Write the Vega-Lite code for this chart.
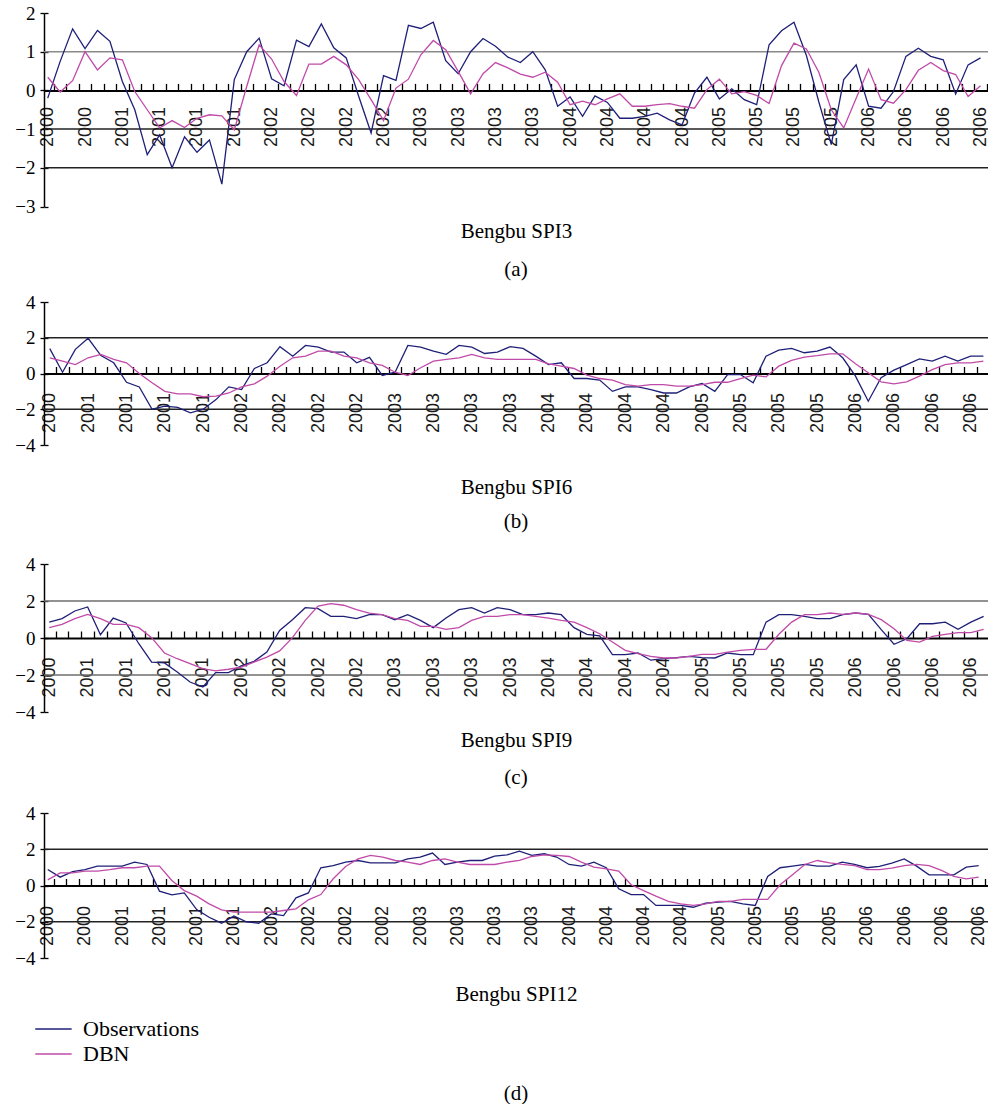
{
"$schema": "https://vega.github.io/schema/vega-lite/v6.json",
"background": "white",
"padding": {"left": 14, "top": 4, "right": 0, "bottom": 0},
"config": {"view": {"stroke": null}, "title": {"font": "Liberation Serif", "fontSize": 21, "fontWeight": "normal", "color": "#000", "anchor": "middle"}},
"datasets": {
"a": [
{"i":0,"Observations":-0.2,"DBN":0.34},{"i":1,"Observations":0.75,"DBN":-0.04},{"i":2,"Observations":1.59,"DBN":0.25},{"i":3,"Observations":1.08,"DBN":1.0},{"i":4,"Observations":1.55,"DBN":0.53},{"i":5,"Observations":1.27,"DBN":0.84},{"i":6,"Observations":0.23,"DBN":0.79},{"i":7,"Observations":-0.5,"DBN":-0.03},{"i":8,"Observations":-1.66,"DBN":-0.5},{"i":9,"Observations":-1.15,"DBN":-0.97},
{"i":10,"Observations":-2.0,"DBN":-0.78},{"i":11,"Observations":-1.2,"DBN":-0.96},{"i":12,"Observations":-1.6,"DBN":-0.72},{"i":13,"Observations":-1.28,"DBN":-0.63},{"i":14,"Observations":-2.42,"DBN":-0.66},{"i":15,"Observations":0.28,"DBN":-1.02},{"i":16,"Observations":1.0,"DBN":0.1},{"i":17,"Observations":1.35,"DBN":1.18},{"i":18,"Observations":0.3,"DBN":0.81},{"i":19,"Observations":0.12,"DBN":0.23},
{"i":20,"Observations":1.3,"DBN":-0.13},{"i":21,"Observations":1.13,"DBN":0.68},{"i":22,"Observations":1.72,"DBN":0.68},{"i":23,"Observations":1.1,"DBN":0.88},{"i":24,"Observations":0.84,"DBN":0.66},{"i":25,"Observations":-0.15,"DBN":0.28},{"i":26,"Observations":-1.1,"DBN":-0.24},{"i":27,"Observations":0.38,"DBN":-0.78},{"i":28,"Observations":0.26,"DBN":0.06},{"i":29,"Observations":1.68,"DBN":0.29},
{"i":30,"Observations":1.6,"DBN":0.92},{"i":31,"Observations":1.76,"DBN":1.29},{"i":32,"Observations":0.77,"DBN":1.05},{"i":33,"Observations":0.43,"DBN":0.49},{"i":34,"Observations":1.0,"DBN":-0.09},{"i":35,"Observations":1.34,"DBN":0.43},{"i":36,"Observations":1.14,"DBN":0.72},{"i":37,"Observations":0.86,"DBN":0.58},{"i":38,"Observations":0.72,"DBN":0.42},{"i":39,"Observations":1.0,"DBN":0.34},
{"i":40,"Observations":0.53,"DBN":0.47},{"i":41,"Observations":-0.41,"DBN":0.21},{"i":42,"Observations":-0.17,"DBN":-0.37},{"i":43,"Observations":-0.67,"DBN":-0.28},{"i":44,"Observations":-0.14,"DBN":-0.37},{"i":45,"Observations":-0.31,"DBN":-0.22},{"i":46,"Observations":-0.72,"DBN":-0.09},{"i":47,"Observations":-0.72,"DBN":-0.41},{"i":48,"Observations":-0.67,"DBN":-0.41},{"i":49,"Observations":-0.59,"DBN":-0.37},
{"i":50,"Observations":-0.76,"DBN":-0.34},{"i":51,"Observations":-0.89,"DBN":-0.41},{"i":52,"Observations":-0.07,"DBN":-0.46},{"i":53,"Observations":0.34,"DBN":0.02},{"i":54,"Observations":-0.22,"DBN":0.29},{"i":55,"Observations":0.04,"DBN":-0.09},{"i":56,"Observations":-0.24,"DBN":-0.03},{"i":57,"Observations":-0.37,"DBN":-0.13},{"i":58,"Observations":1.18,"DBN":-0.34},{"i":59,"Observations":1.54,"DBN":0.64},
{"i":60,"Observations":1.76,"DBN":1.22},{"i":61,"Observations":0.9,"DBN":1.07},{"i":62,"Observations":-0.3,"DBN":0.47},{"i":63,"Observations":-1.4,"DBN":-0.5},{"i":64,"Observations":0.28,"DBN":-0.97},{"i":65,"Observations":0.66,"DBN":-0.2},{"i":66,"Observations":-0.41,"DBN":0.55},{"i":67,"Observations":-0.46,"DBN":-0.24},{"i":68,"Observations":-0.03,"DBN":-0.33},{"i":69,"Observations":0.88,"DBN":0.02},
{"i":70,"Observations":1.09,"DBN":0.52},{"i":71,"Observations":0.88,"DBN":0.72},{"i":72,"Observations":0.79,"DBN":0.51},{"i":73,"Observations":-0.09,"DBN":0.41},{"i":74,"Observations":0.66,"DBN":-0.16},{"i":75,"Observations":0.84,"DBN":0.12}
],
"b": [
{"i":0,"Observations":1.39,"DBN":0.88},{"i":1,"Observations":0.07,"DBN":0.69},{"i":2,"Observations":1.35,"DBN":0.5},{"i":3,"Observations":1.97,"DBN":0.88},{"i":4,"Observations":1.0,"DBN":1.07},{"i":5,"Observations":0.6,"DBN":0.79},{"i":6,"Observations":-0.49,"DBN":0.6},{"i":7,"Observations":-0.75,"DBN":0.0},{"i":8,"Observations":-2.0,"DBN":-0.52},{"i":9,"Observations":-1.83,"DBN":-1.0},
{"i":10,"Observations":-1.9,"DBN":-1.14},{"i":11,"Observations":-2.2,"DBN":-1.14},{"i":12,"Observations":-2.0,"DBN":-1.3},{"i":13,"Observations":-1.46,"DBN":-1.27},{"i":14,"Observations":-0.75,"DBN":-1.09},{"i":15,"Observations":-0.9,"DBN":-0.75},{"i":16,"Observations":0.28,"DBN":-0.58},{"i":17,"Observations":0.6,"DBN":-0.15},{"i":18,"Observations":1.5,"DBN":0.41},{"i":19,"Observations":0.97,"DBN":0.88},
{"i":20,"Observations":1.57,"DBN":0.97},{"i":21,"Observations":1.48,"DBN":1.25},{"i":22,"Observations":1.2,"DBN":1.25},{"i":23,"Observations":1.2,"DBN":0.97},{"i":24,"Observations":0.6,"DBN":0.88},{"i":25,"Observations":0.9,"DBN":0.6},{"i":26,"Observations":-0.11,"DBN":0.45},{"i":27,"Observations":0.07,"DBN":0.07},{"i":28,"Observations":1.57,"DBN":-0.11},{"i":29,"Observations":1.48,"DBN":0.32},
{"i":30,"Observations":1.25,"DBN":0.69},{"i":31,"Observations":1.07,"DBN":0.79},{"i":32,"Observations":1.57,"DBN":0.88},{"i":33,"Observations":1.48,"DBN":1.07},{"i":34,"Observations":1.12,"DBN":0.88},{"i":35,"Observations":1.2,"DBN":0.79},{"i":36,"Observations":1.5,"DBN":0.79},{"i":37,"Observations":1.4,"DBN":0.79},{"i":38,"Observations":0.97,"DBN":0.79},{"i":39,"Observations":0.5,"DBN":0.54},
{"i":40,"Observations":0.6,"DBN":0.41},{"i":41,"Observations":-0.28,"DBN":0.28},{"i":42,"Observations":-0.28,"DBN":-0.09},{"i":43,"Observations":-0.37,"DBN":-0.28},{"i":44,"Observations":-1.0,"DBN":-0.37},{"i":45,"Observations":-0.75,"DBN":-0.62},{"i":46,"Observations":-0.75,"DBN":-0.71},{"i":47,"Observations":-0.9,"DBN":-0.62},{"i":48,"Observations":-1.09,"DBN":-0.62},{"i":49,"Observations":-1.09,"DBN":-0.71},
{"i":50,"Observations":-0.75,"DBN":-0.71},{"i":51,"Observations":-0.56,"DBN":-0.62},{"i":52,"Observations":-1.0,"DBN":-0.49},{"i":53,"Observations":-0.06,"DBN":-0.49},{"i":54,"Observations":-0.06,"DBN":-0.28},{"i":55,"Observations":-0.52,"DBN":-0.09},{"i":56,"Observations":0.97,"DBN":-0.19},{"i":57,"Observations":1.31,"DBN":0.41},{"i":58,"Observations":1.4,"DBN":0.73},{"i":59,"Observations":1.16,"DBN":0.92},
{"i":60,"Observations":1.25,"DBN":1.0},{"i":61,"Observations":1.48,"DBN":1.1},{"i":62,"Observations":0.88,"DBN":1.1},{"i":63,"Observations":-0.15,"DBN":0.54},{"i":64,"Observations":-1.55,"DBN":0.04},{"i":65,"Observations":-0.24,"DBN":-0.47},{"i":66,"Observations":0.19,"DBN":-0.58},{"i":67,"Observations":0.5,"DBN":-0.47},{"i":68,"Observations":0.82,"DBN":-0.15},{"i":69,"Observations":0.69,"DBN":0.22},
{"i":70,"Observations":0.97,"DBN":0.5},{"i":71,"Observations":0.69,"DBN":0.6},{"i":72,"Observations":0.97,"DBN":0.6},{"i":73,"Observations":0.97,"DBN":0.69}
],
"c": [
{"i":0,"Observations":0.86,"DBN":0.56},{"i":1,"Observations":1.05,"DBN":0.74},{"i":2,"Observations":1.46,"DBN":1.05},{"i":3,"Observations":1.68,"DBN":1.28},{"i":4,"Observations":0.18,"DBN":1.05},{"i":5,"Observations":1.08,"DBN":0.74},{"i":6,"Observations":0.81,"DBN":0.74},{"i":7,"Observations":-0.31,"DBN":0.56},{"i":8,"Observations":-1.3,"DBN":0.02},{"i":9,"Observations":-1.35,"DBN":-0.81},
{"i":10,"Observations":-1.84,"DBN":-1.12},{"i":11,"Observations":-2.38,"DBN":-1.39},{"i":12,"Observations":-2.65,"DBN":-1.66},{"i":13,"Observations":-1.87,"DBN":-1.78},{"i":14,"Observations":-1.87,"DBN":-1.69},{"i":15,"Observations":-1.51,"DBN":-1.57},{"i":16,"Observations":-1.26,"DBN":-1.3},{"i":17,"Observations":-0.76,"DBN":-1.03},{"i":18,"Observations":0.41,"DBN":-0.7},{"i":19,"Observations":0.99,"DBN":0.02},
{"i":20,"Observations":1.64,"DBN":0.95},{"i":21,"Observations":1.59,"DBN":1.73},{"i":22,"Observations":1.17,"DBN":1.86},{"i":23,"Observations":1.17,"DBN":1.77},{"i":24,"Observations":1.05,"DBN":1.53},{"i":25,"Observations":1.26,"DBN":1.35},{"i":26,"Observations":1.26,"DBN":1.26},{"i":27,"Observations":0.99,"DBN":1.05},{"i":28,"Observations":1.26,"DBN":0.95},{"i":29,"Observations":0.95,"DBN":0.63},
{"i":30,"Observations":0.56,"DBN":0.63},{"i":31,"Observations":1.08,"DBN":0.47},{"i":32,"Observations":1.53,"DBN":0.56},{"i":33,"Observations":1.64,"DBN":0.95},{"i":34,"Observations":1.35,"DBN":1.17},{"i":35,"Observations":1.64,"DBN":1.17},{"i":36,"Observations":1.53,"DBN":1.26},{"i":37,"Observations":1.26,"DBN":1.26},{"i":38,"Observations":1.26,"DBN":1.17},{"i":39,"Observations":1.35,"DBN":1.08},
{"i":40,"Observations":1.26,"DBN":0.95},{"i":41,"Observations":0.56,"DBN":0.86},{"i":42,"Observations":0.2,"DBN":0.56},{"i":43,"Observations":0.11,"DBN":0.23},{"i":44,"Observations":-0.9,"DBN":-0.22},{"i":45,"Observations":-0.9,"DBN":-0.67},{"i":46,"Observations":-0.81,"DBN":-0.85},{"i":47,"Observations":-1.2,"DBN":-0.99},{"i":48,"Observations":-1.12,"DBN":-1.08},{"i":49,"Observations":-1.06,"DBN":-1.08},
{"i":50,"Observations":-0.99,"DBN":-0.99},{"i":51,"Observations":-1.06,"DBN":-0.88},{"i":52,"Observations":-1.08,"DBN":-0.88},{"i":53,"Observations":-0.81,"DBN":-0.76},{"i":54,"Observations":-0.9,"DBN":-0.67},{"i":55,"Observations":-0.9,"DBN":-0.61},{"i":56,"Observations":0.86,"DBN":-0.61},{"i":57,"Observations":1.26,"DBN":0.2},{"i":58,"Observations":1.26,"DBN":0.86},{"i":59,"Observations":1.17,"DBN":1.26},
{"i":60,"Observations":1.05,"DBN":1.26},{"i":61,"Observations":1.05,"DBN":1.35},{"i":62,"Observations":1.26,"DBN":1.28},{"i":63,"Observations":1.35,"DBN":1.35},{"i":64,"Observations":1.28,"DBN":1.28},{"i":65,"Observations":0.45,"DBN":0.99},{"i":66,"Observations":-0.34,"DBN":0.5},{"i":67,"Observations":-0.04,"DBN":-0.13},{"i":68,"Observations":0.77,"DBN":-0.22},{"i":69,"Observations":0.77,"DBN":0.09},
{"i":70,"Observations":0.86,"DBN":0.2},{"i":71,"Observations":0.47,"DBN":0.29},{"i":72,"Observations":0.86,"DBN":0.29},{"i":73,"Observations":1.17,"DBN":0.47}
],
"d": [
{"i":0,"Observations":0.88,"DBN":0.31},{"i":1,"Observations":0.46,"DBN":0.7},{"i":2,"Observations":0.77,"DBN":0.7},{"i":3,"Observations":0.87,"DBN":0.79},{"i":4,"Observations":1.07,"DBN":0.79},{"i":5,"Observations":1.07,"DBN":0.87},{"i":6,"Observations":1.07,"DBN":0.98},{"i":7,"Observations":1.29,"DBN":0.98},{"i":8,"Observations":1.16,"DBN":1.07},{"i":9,"Observations":-0.31,"DBN":1.07},
{"i":10,"Observations":-0.52,"DBN":0.28},{"i":11,"Observations":-0.41,"DBN":-0.28},{"i":12,"Observations":-1.33,"DBN":-0.59},{"i":13,"Observations":-1.75,"DBN":-1.01},{"i":14,"Observations":-2.08,"DBN":-1.34},{"i":15,"Observations":-1.68,"DBN":-1.47},{"i":16,"Observations":-2.0,"DBN":-1.47},{"i":17,"Observations":-2.08,"DBN":-1.47},{"i":18,"Observations":-1.57,"DBN":-1.47},{"i":19,"Observations":-1.66,"DBN":-1.38},
{"i":20,"Observations":-0.68,"DBN":-1.29},{"i":21,"Observations":-0.41,"DBN":-0.79},{"i":22,"Observations":0.98,"DBN":-0.5},{"i":23,"Observations":1.1,"DBN":0.37},{"i":24,"Observations":1.29,"DBN":1.05},{"i":25,"Observations":1.38,"DBN":1.47},{"i":26,"Observations":1.25,"DBN":1.66},{"i":27,"Observations":1.25,"DBN":1.57},{"i":28,"Observations":1.25,"DBN":1.38},{"i":29,"Observations":1.47,"DBN":1.29},
{"i":30,"Observations":1.57,"DBN":1.16},{"i":31,"Observations":1.79,"DBN":1.38},{"i":32,"Observations":1.16,"DBN":1.47},{"i":33,"Observations":1.29,"DBN":1.29},{"i":34,"Observations":1.38,"DBN":1.16},{"i":35,"Observations":1.38,"DBN":1.16},{"i":36,"Observations":1.62,"DBN":1.16},{"i":37,"Observations":1.69,"DBN":1.29},{"i":38,"Observations":1.9,"DBN":1.38},{"i":39,"Observations":1.66,"DBN":1.6},
{"i":40,"Observations":1.75,"DBN":1.69},{"i":41,"Observations":1.57,"DBN":1.66},{"i":42,"Observations":1.16,"DBN":1.6},{"i":43,"Observations":1.07,"DBN":1.29},{"i":44,"Observations":1.29,"DBN":1.01},{"i":45,"Observations":0.98,"DBN":0.92},{"i":46,"Observations":-0.18,"DBN":0.79},{"i":47,"Observations":-0.5,"DBN":0.04},{"i":48,"Observations":-0.5,"DBN":-0.28},{"i":49,"Observations":-1.1,"DBN":-0.59},
{"i":50,"Observations":-1.1,"DBN":-0.88},{"i":51,"Observations":-1.1,"DBN":-1.01},{"i":52,"Observations":-1.2,"DBN":-1.1},{"i":53,"Observations":-0.98,"DBN":-1.01},{"i":54,"Observations":-0.92,"DBN":-0.88},{"i":55,"Observations":-0.88,"DBN":-0.88},{"i":56,"Observations":-1.01,"DBN":-0.77},{"i":57,"Observations":-1.1,"DBN":-0.77},{"i":58,"Observations":0.5,"DBN":-0.77},{"i":59,"Observations":0.98,"DBN":0.04},
{"i":60,"Observations":1.07,"DBN":0.59},{"i":61,"Observations":1.16,"DBN":1.16},{"i":62,"Observations":1.07,"DBN":1.38},{"i":63,"Observations":1.07,"DBN":1.25},{"i":64,"Observations":1.29,"DBN":1.16},{"i":65,"Observations":1.16,"DBN":1.1},{"i":66,"Observations":0.98,"DBN":0.88},{"i":67,"Observations":1.05,"DBN":0.88},{"i":68,"Observations":1.23,"DBN":0.96},{"i":69,"Observations":1.47,"DBN":1.1},
{"i":70,"Observations":1.07,"DBN":1.16},{"i":71,"Observations":0.59,"DBN":1.1},{"i":72,"Observations":0.59,"DBN":0.83},{"i":73,"Observations":0.59,"DBN":0.5},{"i":74,"Observations":1.01,"DBN":0.37},{"i":75,"Observations":1.1,"DBN":0.46}
]
},
"resolve": {"scale": {"color": "independent"}},
"spacing": 22,
"vconcat": [
{
"resolve": {"scale": {"color": "independent"}},
"spacing": 12,
"vconcat": [
{
"width": 944, "height": 193.5,
"title": {"text": "(a)", "orient": "bottom", "offset": 18},
"resolve": {"axis": {"x": "independent", "y": "independent"}},
"layer": [
{"data": {"values": [{"g": 1}, {"g": -1}, {"g": -2}]},
 "mark": {"type": "rule", "strokeWidth": 1.5},
 "encoding": {
  "y": {"field": "g", "type": "quantitative", "scale": {"domain": [-3, 2], "nice": false, "zero": false},
        "axis": {"orient": "left", "values": [-3, -2, -1, 0, 1, 2], "title": null, "grid": false, "domainColor": "#000", "domainWidth": 1.5, "tickColor": "#000", "tickWidth": 1.3, "tickSize": 4, "labelFont": "Liberation Serif", "labelFontSize": 19, "labelColor": "#000", "labelPadding": 5}},
  "color": {"condition": {"test": "datum.g > 0", "value": "#8a8a8a"}, "value": "#222"}}},
{"data": {"name": "a"},
 "transform": [{"fold": ["Observations", "DBN"], "as": ["series", "v"]}],
 "mark": {"type": "line", "strokeWidth": 1.3},
 "encoding": {
  "x": {"field": "i", "type": "quantitative", "scale": {"domain": [-0.3, 75.6], "nice": false, "zero": false},
        "axis": {"orient": "top", "offset": -77.4, "values": [0.5,1.5,2.5,3.5,4.5,5.5,6.5,7.5,8.5,9.5,10.5,11.5,12.5,13.5,14.5,15.5,16.5,17.5,18.5,19.5,20.5,21.5,22.5,23.5,24.5,25.5,26.5,27.5,28.5,29.5,30.5,31.5,32.5,33.5,34.5,35.5,36.5,37.5,38.5,39.5,40.5,41.5,42.5,43.5,44.5,45.5,46.5,47.5,48.5,49.5,50.5,51.5,52.5,53.5,54.5,55.5,56.5,57.5,58.5,59.5,60.5,61.5,62.5,63.5,64.5,65.5,66.5,67.5,68.5,69.5,70.5,71.5,72.5,73.5,74.5,75.5], "labels": false, "title": null, "grid": false, "domainColor": "#000", "domainWidth": 2, "tickColor": "#000", "tickWidth": 1.3, "tickSize": 7}},
  "y": {"field": "v", "type": "quantitative", "scale": {"domain": [-3, 2], "nice": false, "zero": false},
        "axis": {"orient": "right", "offset": -944, "values": [-3, -2, -1, 0, 1, 2], "labels": false, "domain": false, "grid": false, "title": null, "tickColor": "#000", "tickWidth": 1.3, "tickSize": 4}},
  "color": {"field": "series", "type": "nominal", "scale": {"domain": ["Observations", "DBN"], "range": ["#1f1f78", "#c04aa8"]}, "legend": null}}},
{"data": {"name": "a"},
 "mark": {"type": "point", "opacity": 0},
 "encoding": {
  "x": {"field": "i", "type": "quantitative", "scale": {"domain": [-0.3, 75.6], "nice": false, "zero": false},
        "axis": {"orient": "bottom", "offset": -116.1, "values": [0,3,6,9,12,15,18,21,24,27,30,33,36,39,42,45,48,51,54,57,60,63,66,69,72,75], "labelExpr": "['2000','2000','2001','2001','2001','2001','2002','2002','2002','2002','2003','2003','2003','2003','2004','2004','2004','2004','2005','2005','2005','2005','2006','2006','2006','2006'][round(datum.value/3)]", "labelAngle": -90, "labelFont": "Liberation Sans", "labelFontSize": 18, "labelColor": "#1a1a1a", "labelPadding": 16, "labelFlush": false, "labelOverlap": false, "ticks": false, "domain": false, "grid": false, "title": "Bengbu SPI3", "titleFont": "Liberation Serif", "titleFontSize": 21, "titleFontWeight": "normal", "titleColor": "#000", "titlePadding": 74}},
  "y": {"field": "Observations", "type": "quantitative", "scale": {"domain": [-3, 2], "nice": false, "zero": false}, "axis": null}}}
]
},
{
"width": 944, "height": 143,
"title": {"text": "(b)", "orient": "bottom", "offset": 13.5},
"resolve": {"axis": {"x": "independent", "y": "independent"}},
"layer": [
{"data": {"values": [{"g": 2}, {"g": -2}]},
 "mark": {"type": "rule", "strokeWidth": 1.5, "color": "#222"},
 "encoding": {
  "y": {"field": "g", "type": "quantitative", "scale": {"domain": [-4, 4], "nice": false, "zero": false},
        "axis": {"orient": "left", "values": [-4, -2, 0, 2, 4], "title": null, "grid": false, "domainColor": "#000", "domainWidth": 1.5, "tickColor": "#000", "tickWidth": 1.3, "tickSize": 4, "labelFont": "Liberation Serif", "labelFontSize": 19, "labelColor": "#000", "labelPadding": 5}}}},
{"data": {"name": "b"},
 "transform": [{"fold": ["Observations", "DBN"], "as": ["series", "v"]}],
 "mark": {"type": "line", "strokeWidth": 1.3},
 "encoding": {
  "x": {"field": "i", "type": "quantitative", "scale": {"domain": [-0.45, 73.36], "nice": false, "zero": false},
        "axis": {"orient": "top", "offset": -71.5, "values": [0.5,1.5,2.5,3.5,4.5,5.5,6.5,7.5,8.5,9.5,10.5,11.5,12.5,13.5,14.5,15.5,16.5,17.5,18.5,19.5,20.5,21.5,22.5,23.5,24.5,25.5,26.5,27.5,28.5,29.5,30.5,31.5,32.5,33.5,34.5,35.5,36.5,37.5,38.5,39.5,40.5,41.5,42.5,43.5,44.5,45.5,46.5,47.5,48.5,49.5,50.5,51.5,52.5,53.5,54.5,55.5,56.5,57.5,58.5,59.5,60.5,61.5,62.5,63.5,64.5,65.5,66.5,67.5,68.5,69.5,70.5,71.5,72.5], "labels": false, "title": null, "grid": false, "domainColor": "#000", "domainWidth": 2, "tickColor": "#000", "tickWidth": 1.3, "tickSize": 7}},
  "y": {"field": "v", "type": "quantitative", "scale": {"domain": [-4, 4], "nice": false, "zero": false},
        "axis": {"orient": "right", "offset": -944, "values": [-4, -2, 0, 2, 4], "labels": false, "domain": false, "grid": false, "title": null, "tickColor": "#000", "tickWidth": 1.3, "tickSize": 4}},
  "color": {"field": "series", "type": "nominal", "scale": {"domain": ["Observations", "DBN"], "range": ["#1f1f78", "#c04aa8"]}, "legend": null}}},
{"data": {"name": "b"},
 "mark": {"type": "point", "opacity": 0},
 "encoding": {
  "x": {"field": "i", "type": "quantitative", "scale": {"domain": [-0.45, 73.36], "nice": false, "zero": false},
        "axis": {"orient": "bottom", "offset": -71.5, "values": [0,3,6,9,12,15,18,21,24,27,30,33,36,39,42,45,48,51,54,57,60,63,66,69,72], "labelExpr": "['2000','2001','2001','2001','2001','2002','2002','2002','2002','2003','2003','2003','2003','2004','2004','2004','2004','2005','2005','2005','2005','2006','2006','2006','2006'][round(datum.value/3)]", "labelAngle": -90, "labelFont": "Liberation Sans", "labelFontSize": 18, "labelColor": "#1a1a1a", "labelPadding": 19, "labelFlush": false, "labelOverlap": false, "ticks": false, "domain": false, "grid": false, "title": "Bengbu SPI6", "titleFont": "Liberation Serif", "titleFontSize": 21, "titleFontWeight": "normal", "titleColor": "#000", "titlePadding": 44}},
  "y": {"field": "Observations", "type": "quantitative", "scale": {"domain": [-4, 4], "nice": false, "zero": false}, "axis": null}}}
]
}
]
},
{
"resolve": {"scale": {"color": "independent"}},
"spacing": 16,
"vconcat": [
{
"width": 944, "height": 148,
"title": {"text": "(c)", "orient": "bottom", "offset": 16.5},
"resolve": {"axis": {"x": "independent", "y": "independent"}},
"layer": [
{"data": {"values": [{"g": 2}, {"g": -2}]},
 "mark": {"type": "rule", "strokeWidth": 1.6, "color": "#6e6e6e"},
 "encoding": {
  "y": {"field": "g", "type": "quantitative", "scale": {"domain": [-4, 4], "nice": false, "zero": false},
        "axis": {"orient": "left", "values": [-4, -2, 0, 2, 4], "title": null, "grid": false, "domainColor": "#000", "domainWidth": 1.5, "tickColor": "#000", "tickWidth": 1.3, "tickSize": 4, "labelFont": "Liberation Serif", "labelFontSize": 19, "labelColor": "#000", "labelPadding": 5}}}},
{"data": {"name": "c"},
 "transform": [{"fold": ["Observations", "DBN"], "as": ["series", "v"]}],
 "mark": {"type": "line", "strokeWidth": 1.3},
 "encoding": {
  "x": {"field": "i", "type": "quantitative", "scale": {"domain": [-0.41, 73.34], "nice": false, "zero": false},
        "axis": {"orient": "top", "offset": -74, "values": [0.5,1.5,2.5,3.5,4.5,5.5,6.5,7.5,8.5,9.5,10.5,11.5,12.5,13.5,14.5,15.5,16.5,17.5,18.5,19.5,20.5,21.5,22.5,23.5,24.5,25.5,26.5,27.5,28.5,29.5,30.5,31.5,32.5,33.5,34.5,35.5,36.5,37.5,38.5,39.5,40.5,41.5,42.5,43.5,44.5,45.5,46.5,47.5,48.5,49.5,50.5,51.5,52.5,53.5,54.5,55.5,56.5,57.5,58.5,59.5,60.5,61.5,62.5,63.5,64.5,65.5,66.5,67.5,68.5,69.5,70.5,71.5,72.5], "labels": false, "title": null, "grid": false, "domainColor": "#000", "domainWidth": 2, "tickColor": "#000", "tickWidth": 1.3, "tickSize": 7}},
  "y": {"field": "v", "type": "quantitative", "scale": {"domain": [-4, 4], "nice": false, "zero": false},
        "axis": {"orient": "right", "offset": -944, "values": [-4, -2, 0, 2, 4], "labels": false, "domain": false, "grid": false, "title": null, "tickColor": "#000", "tickWidth": 1.3, "tickSize": 4}},
  "color": {"field": "series", "type": "nominal", "scale": {"domain": ["Observations", "DBN"], "range": ["#1f1f78", "#c04aa8"]}, "legend": null}}},
{"data": {"name": "c"},
 "mark": {"type": "point", "opacity": 0},
 "encoding": {
  "x": {"field": "i", "type": "quantitative", "scale": {"domain": [-0.41, 73.34], "nice": false, "zero": false},
        "axis": {"orient": "bottom", "offset": -74, "values": [0,3,6,9,12,15,18,21,24,27,30,33,36,39,42,45,48,51,54,57,60,63,66,69,72], "labelExpr": "['2000','2001','2001','2001','2001','2002','2002','2002','2002','2003','2003','2003','2003','2004','2004','2004','2004','2005','2005','2005','2005','2006','2006','2006','2006'][round(datum.value/3)]", "labelAngle": -90, "labelFont": "Liberation Sans", "labelFontSize": 18, "labelColor": "#1a1a1a", "labelPadding": 19, "labelFlush": false, "labelOverlap": false, "ticks": false, "domain": false, "grid": false, "title": "Bengbu  SPI9", "titleFont": "Liberation Serif", "titleFontSize": 21, "titleFontWeight": "normal", "titleColor": "#000", "titlePadding": 32}},
  "y": {"field": "Observations", "type": "quantitative", "scale": {"domain": [-4, 4], "nice": false, "zero": false}, "axis": null}}}
]
},
{
"width": 944, "height": 145,
"title": {"text": "(d)", "orient": "bottom", "offset": 18},
"resolve": {"axis": {"x": "independent", "y": "independent"}},
"layer": [
{"data": {"values": [{"g": 2}, {"g": -2}]},
 "mark": {"type": "rule", "strokeWidth": 1.5, "color": "#222"},
 "encoding": {
  "y": {"field": "g", "type": "quantitative", "scale": {"domain": [-4, 4], "nice": false, "zero": false},
        "axis": {"orient": "left", "values": [-4, -2, 0, 2, 4], "title": null, "grid": false, "domainColor": "#000", "domainWidth": 1.5, "tickColor": "#000", "tickWidth": 1.3, "tickSize": 4, "labelFont": "Liberation Serif", "labelFontSize": 19, "labelColor": "#000", "labelPadding": 5}}}},
{"data": {"name": "d"},
 "transform": [{"fold": ["Observations", "DBN"], "as": ["series", "v"]}],
 "mark": {"type": "line", "strokeWidth": 1.3},
 "encoding": {
  "x": {"field": "i", "type": "quantitative", "scale": {"domain": [-0.3, 75.75], "nice": false, "zero": false},
        "axis": {"orient": "top", "offset": -72.5, "values": [0.5,1.5,2.5,3.5,4.5,5.5,6.5,7.5,8.5,9.5,10.5,11.5,12.5,13.5,14.5,15.5,16.5,17.5,18.5,19.5,20.5,21.5,22.5,23.5,24.5,25.5,26.5,27.5,28.5,29.5,30.5,31.5,32.5,33.5,34.5,35.5,36.5,37.5,38.5,39.5,40.5,41.5,42.5,43.5,44.5,45.5,46.5,47.5,48.5,49.5,50.5,51.5,52.5,53.5,54.5,55.5,56.5,57.5,58.5,59.5,60.5,61.5,62.5,63.5,64.5,65.5,66.5,67.5,68.5,69.5,70.5,71.5,72.5,73.5,74.5,75.5], "labels": false, "title": null, "grid": false, "domainColor": "#000", "domainWidth": 2, "tickColor": "#000", "tickWidth": 1.3, "tickSize": 7}},
  "y": {"field": "v", "type": "quantitative", "scale": {"domain": [-4, 4], "nice": false, "zero": false},
        "axis": {"orient": "right", "offset": -944, "values": [-4, -2, 0, 2, 4], "labels": false, "domain": false, "grid": false, "title": null, "tickColor": "#000", "tickWidth": 1.3, "tickSize": 4}},
  "color": {"field": "series", "type": "nominal", "scale": {"domain": ["Observations", "DBN"], "range": ["#1f1f78", "#c04aa8"]},
            "legend": {"orient": "bottom", "direction": "vertical", "title": null, "symbolType": "M-1.75,0H1.05", "symbolSize": 676, "symbolStrokeWidth": 1.5, "labelFont": "Liberation Serif", "labelFontSize": 22, "labelColor": "#000", "labelOffset": 11, "rowPadding": 0, "offset": 10, "padding": 0}}}},
{"data": {"name": "d"},
 "mark": {"type": "point", "opacity": 0},
 "encoding": {
  "x": {"field": "i", "type": "quantitative", "scale": {"domain": [-0.3, 75.75], "nice": false, "zero": false},
        "axis": {"orient": "bottom", "offset": -72.5, "values": [0,3,6,9,12,15,18,21,24,27,30,33,36,39,42,45,48,51,54,57,60,63,66,69,72,75], "labelExpr": "['2000','2000','2001','2001','2001','2001','2002','2002','2002','2002','2003','2003','2003','2003','2004','2004','2004','2004','2005','2005','2005','2005','2006','2006','2006','2006'][round(datum.value/3)]", "labelAngle": -90, "labelFont": "Liberation Sans", "labelFontSize": 18, "labelColor": "#1a1a1a", "labelPadding": 20, "labelFlush": false, "labelOverlap": false, "ticks": false, "domain": false, "grid": false, "title": "Bengbu SPI12", "titleFont": "Liberation Serif", "titleFontSize": 21, "titleFontWeight": "normal", "titleColor": "#000", "titlePadding": 38}},
  "y": {"field": "Observations", "type": "quantitative", "scale": {"domain": [-4, 4], "nice": false, "zero": false}, "axis": null}}}
]
}
]
}
]
}
